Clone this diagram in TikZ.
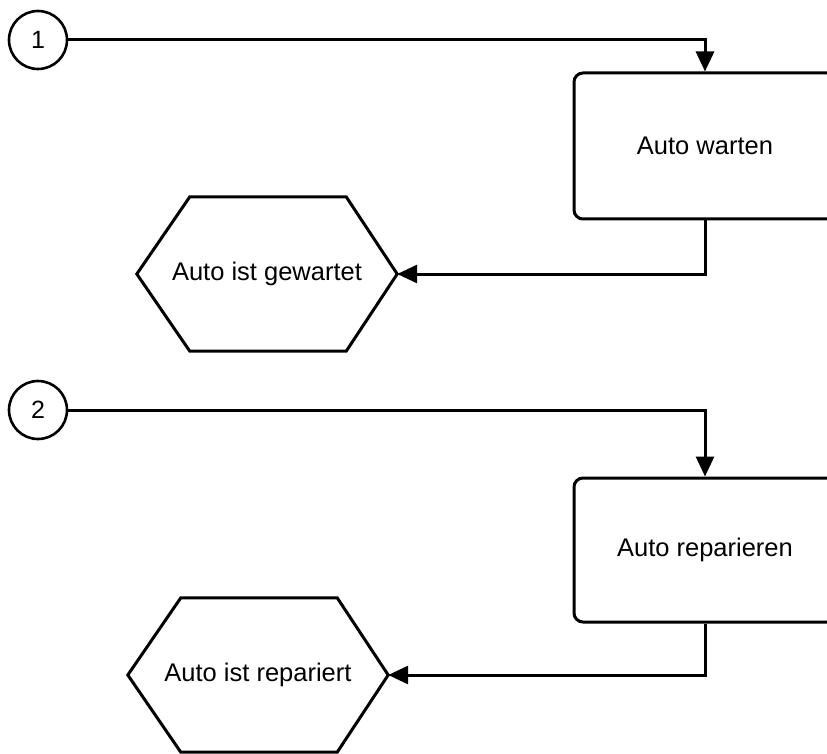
\documentclass[tikz,border=0pt]{standalone}
\usepackage{fontspec}
\setmainfont{Liberation Sans}
\usetikzlibrary{arrows.meta}
\tikzset{
  conn/.style={line width=3pt, -{Triangle[length=20pt,width=18pt]}},
  startc/.style={circle, draw, line width=2.6pt, minimum size=58pt, inner sep=0pt, font=\fontsize{25}{30}\selectfont},
  task/.style={draw, line width=3pt, rounded corners=9pt, minimum width=262pt, inner sep=0pt, font=\fontsize{25.5}{30}\selectfont},
  evt/.style={minimum width=260pt, minimum height=154pt, inner sep=0pt, font=\fontsize{25.5}{30}\selectfont},
  hexline/.style={line width=3pt, line join=miter}
}
\newcommand{\hexframe}[1]{%
  \draw[hexline] (#1.west) -- ([xshift=53pt]#1.north west) -- ([xshift=-51pt]#1.north east) -- (#1.east) -- ([xshift=-51pt]#1.south east) -- ([xshift=53pt]#1.south west) -- cycle;}
\begin{document}
\begin{tikzpicture}[x=1pt,y=-1pt]
\useasboundingbox (0,0) rectangle (827,754);
\clip (0,0) rectangle (827,754);
% part 1
\node[startc] (c1) at (38,40) {1};
\node[task, minimum height=146pt] (b1) at (705,146) {Auto warten};
\node[evt] (h1) at (267,274) {Auto ist gewartet};
\hexframe{h1}
\draw[conn] (c1) -| (b1);
\draw[conn] (b1) |- (h1);
% part 2
\node[startc] (c2) at (38,410) {2};
\node[task, minimum height=144pt] (b2) at (705,550) {Auto reparieren};
\node[evt] (h2) at (258,675) {Auto ist repariert};
\hexframe{h2}
\draw[conn] (c2) -| (b2);
\draw[conn] (b2) |- (h2);
\end{tikzpicture}
\end{document}
